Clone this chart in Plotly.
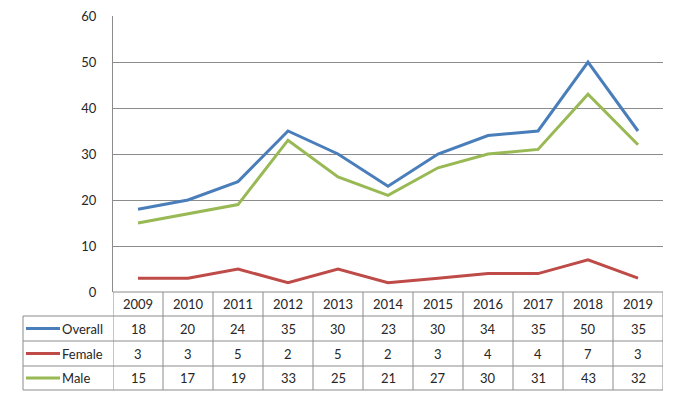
import plotly.graph_objects as go

years = ["2009", "2010", "2011", "2012", "2013", "2014", "2015", "2016", "2017", "2018", "2019"]
overall = [18, 20, 24, 35, 30, 23, 30, 34, 35, 50, 35]
female = [3, 3, 5, 2, 5, 2, 3, 4, 4, 7, 3]
male = [15, 17, 19, 33, 25, 21, 27, 30, 31, 43, 32]

series = [("Overall", overall, "#4A7EBB"), ("Female", female, "#BE4B48"), ("Male", male, "#98B954")]

W, H = 678, 394
L, R, T, B = 113, 15, 16, 102
pw = W - L - R
ph = H - T - B

def py(pix):
    # pixel y -> paper y
    return (H - B - pix) / ph

def px(pix):
    return (pix - L) / pw

grid = "#8c8c8c"
txt = "#262626"
font = "Lato, 'Open Sans', sans-serif"

fig = go.Figure()
for name, vals, col in series:
    fig.add_trace(go.Scatter(x=years, y=vals, mode="lines", name=name,
                             line=dict(color=col, width=3), showlegend=False))

shapes = []
annotations = []
row_edges = [292, 316, 341, 366, 390]
shapes.append(dict(type="line", xref="paper", yref="paper", x0=0, x1=1, y0=py(292), y1=py(292),
                   line=dict(color=grid, width=1)))
for e in row_edges[1:]:
    shapes.append(dict(type="line", xref="paper", yref="paper", x0=px(23), x1=1, y0=py(e), y1=py(e),
                       line=dict(color=grid, width=1)))
for i in range(len(years) + 1):
    shapes.append(dict(type="line", xref="x", yref="paper", x0=i - 0.5, x1=i - 0.5,
                       y0=py(292), y1=py(390), line=dict(color=grid, width=1)))
shapes.append(dict(type="line", xref="paper", yref="paper", x0=px(23), x1=px(23),
                   y0=py(316), y1=py(390), line=dict(color=grid, width=1)))

hc = (292 + 316) / 2
for i, y in enumerate(years):
    annotations.append(dict(x=i, y=py(hc), xref="x", yref="paper", text=y, showarrow=False,
                            font=dict(size=13, color=txt, family=font), xanchor="center", yanchor="middle"))
for r, (name, vals, col) in enumerate(series):
    c = (row_edges[r + 1] + row_edges[r + 2]) / 2
    shapes.append(dict(type="line", xref="paper", yref="paper", x0=px(26), x1=px(60), y0=py(c), y1=py(c),
                       line=dict(color=col, width=3)))
    annotations.append(dict(x=px(60), y=py(c), xref="paper", yref="paper", text=name, showarrow=False,
                            font=dict(size=13, color=txt, family=font), xanchor="left", yanchor="middle"))
    for i, v in enumerate(vals):
        annotations.append(dict(x=i, y=py(c), xref="x", yref="paper", text=str(v), showarrow=False,
                                font=dict(size=13, color=txt, family=font), xanchor="center", yanchor="middle"))

fig.update_layout(
    width=W, height=H,
    margin=dict(l=L, r=R, t=T, b=B, autoexpand=False),
    paper_bgcolor="white", plot_bgcolor="white",
    shapes=shapes, annotations=annotations,
    font=dict(family=font, size=13, color=txt),
    xaxis=dict(type="category", range=[-0.5, len(years) - 0.5], showticklabels=False,
               showgrid=False, zeroline=False, showline=False, fixedrange=True, automargin=False),
    yaxis=dict(range=[0, 60], dtick=10, showgrid=True, gridcolor=grid, gridwidth=1,
               zeroline=False, showline=True, linecolor=grid, linewidth=1, automargin=False,
               ticks="", ticklabelstandoff=13, tickfont=dict(size=13, color=txt, family=font)),
)

fig.write_html("out.html", config={"displayModeBar": False},
               post_script="document.body.style.margin='0px';")
